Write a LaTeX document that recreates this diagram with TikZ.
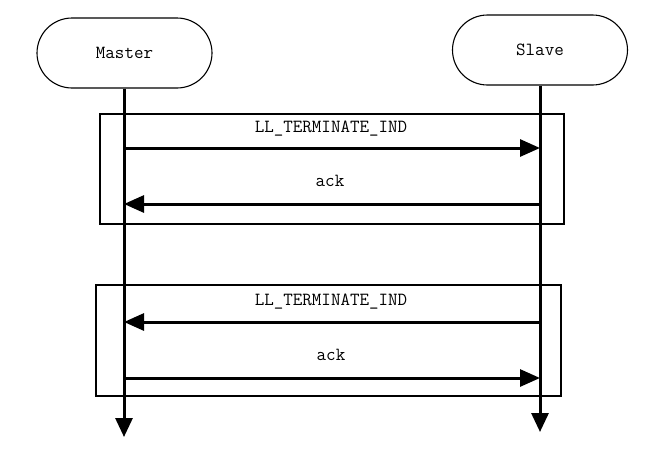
\documentclass[tikz,border=0pt]{standalone}
\usepackage{tikz}
\usetikzlibrary{
    arrows.meta,
    positioning,
}

\begin{document}
\begin{tikzpicture}[
    x=1pt, y=-1pt,
    actor/.style={rectangle, rounded corners=35pt, draw=black, line width=1.1pt, minimum width=175pt, minimum height=70pt, font=\fontsize{18.5}{20}\ttfamily},
    frame/.style={rectangle, draw=black, line width=2.8pt, inner sep=0pt},
    life/.style={line width=3pt, -{Triangle[length=19pt, width=17pt]}},
    msg/.style={line width=3pt, -{Triangle[length=20pt, width=17pt]}},
    lbl/.style={font=\fontsize{18.5}{20}\ttfamily, inner sep=0pt}
]
    \useasboundingbox (0,0) rectangle (657,456);
    % frames
    \node[frame, minimum width=464pt, minimum height=110pt] (box1) at (332,169) {};
    \node[frame, minimum width=465pt, minimum height=111pt] (box2) at (328.5,340.5) {};
    % actors
    \node[actor] (master) at (124.5,53) {Master};
    \node[actor] (slave) at (540,50) {Slave};
    \coordinate (masterEnd) at (124,437);
    \coordinate (slaveEnd) at (540,432);
    \draw[life] (master.south -| masterEnd) -- (masterEnd);
    \draw[life] (slave.south) -- (slaveEnd);
    % message rows
    \coordinate (r1) at (0,148);
    \coordinate (r2) at (0,204);
    \coordinate (r3) at (0,322);
    \coordinate (r4) at (0,378);
    \draw[msg] (masterEnd |- r1) -- (slaveEnd |- r1);
    \draw[msg] (slaveEnd |- r2) -- (masterEnd |- r2);
    \draw[msg] (slaveEnd |- r3) -- (masterEnd |- r3);
    \draw[msg] (masterEnd |- r4) -- (slaveEnd |- r4);
    % labels
    \node[lbl] (t1) at (331,129) {LL\_TERMINATE\_IND};
    \node[lbl] (t2) at (330,181) {ack};
    \node[lbl] (t3) at (331,302) {LL\_TERMINATE\_IND};
    \node[lbl] (t4) at (331,355) {ack};
\end{tikzpicture}
\end{document}
